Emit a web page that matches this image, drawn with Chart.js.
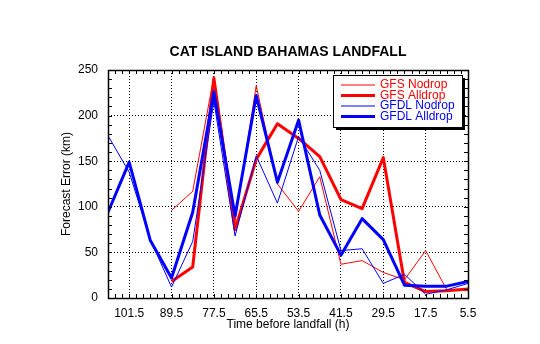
<!DOCTYPE html>
<html>
<head>
<meta charset="utf-8">
<script src="https://cdn.jsdelivr.net/npm/chart.js@4.4.0/dist/chart.umd.min.js"></script>
<style>
  html, body { margin: 0; padding: 0; background: #fff; }
  #wrap { width: 540px; height: 344px; }
</style>
</head>
<body>
<div id="wrap"><canvas id="chart" width="540" height="344"></canvas></div>
<script>
// hours before landfall, one point every 6 h
var hours = [107.5, 101.5, 95.5, 89.5, 83.5, 77.5, 71.5, 65.5, 59.5, 53.5, 47.5, 41.5, 35.5, 29.5, 23.5, 17.5, 11.5, 5.5];

// forecast error (km)
var gfsNodrop   = [null, null, null, 96, 117, 243, 84, 233, 125, 95, 133, 37, 41, 28, 20, 52, 9, 8];
var gfsAlldrop  = [null, null, null, 18, 34, 241, 75, 152, 191, 175, 155, 108, 98, 154, 17, 7, 8, 10];
var gfdlNodrop  = [178, 138, 64, 12, 62, 216, 68, 156, 104, 177, 140, 52, 54, 16, 26, 4, 9, 16];
var gfdlAlldrop = [94, 149, 63, 22, 94, 226, 90, 222, 127, 195, 91, 47, 87, 64, 14, 13, 13, 18];

var xTickLabels = [101.5, 89.5, 77.5, 65.5, 53.5, 41.5, 29.5, 17.5, 5.5];
var yTickLabels = [0, 50, 100, 150, 200, 250];

var FONT = "'Liberation Sans', Arial, Helvetica, sans-serif";

function toPoints(vals) {
    var pts = [];
    for (var i = 0; i < hours.length; i++) {
        pts.push({ x: hours[i], y: vals[i] });
    }
    return pts;
}

function makeSet(label, vals, color, width, order) {
    return {
        label: label,
        data: toPoints(vals),
        borderColor: color,
        backgroundColor: color,
        borderWidth: width,
        pointRadius: 0,
        tension: 0,
        borderJoinStyle: 'round',
        order: order
    };
}

// frame, inward ticks and the boxed legend
var framePlugin = {
    id: 'frame',
    afterDatasetsDraw: function (chart) {
        var ctx = chart.ctx;
        var a = chart.chartArea;
        var xs = chart.scales.x, ys = chart.scales.y;
        var len = 4;
        ctx.save();
        ctx.strokeStyle = '#000';
        ctx.lineWidth = 1;
        ctx.beginPath();
        for (var h = 5.5; h <= 107.5; h += 2) {
            var px = Math.round(xs.getPixelForValue(h)) + 0.5;
            ctx.moveTo(px, a.bottom); ctx.lineTo(px, a.bottom - len);
            ctx.moveTo(px, a.top); ctx.lineTo(px, a.top + len);
        }
        for (var v = 0; v <= 250; v += 10) {
            var py = Math.round(ys.getPixelForValue(v)) + 0.5;
            ctx.moveTo(a.left, py); ctx.lineTo(a.left + len, py);
            ctx.moveTo(a.right, py); ctx.lineTo(a.right - len, py);
        }
        ctx.stroke();
        ctx.lineWidth = 1.5;
        ctx.strokeRect(Math.round(a.left) + 0.5, Math.round(a.top) + 0.5,
            Math.round(a.right - a.left), Math.round(a.bottom - a.top));

        // legend box with drop shadow
        var bx = 333, by = 75, bw = 129, bh = 52;
        ctx.fillStyle = '#000';
        ctx.fillRect(bx + 3, by + 3, bw, bh);
        ctx.fillStyle = '#fff';
        ctx.fillRect(bx, by, bw, bh);
        ctx.lineWidth = 1;
        ctx.strokeRect(bx + 0.5, by + 0.5, bw, bh);

        ctx.font = '12px ' + FONT;
        ctx.textBaseline = 'middle';
        ctx.textAlign = 'left';
        chart.data.datasets.forEach(function (ds, i) {
            var ly = by + 10 + i * 10.5;
            ctx.strokeStyle = ds.borderColor;
            ctx.lineWidth = ds.borderWidth;
            ctx.beginPath();
            ctx.moveTo(bx + 8, ly);
            ctx.lineTo(bx + 42, ly);
            ctx.stroke();
            ctx.fillStyle = ds.borderColor;
            ctx.fillText(ds.label, bx + 47, ly);
        });
        ctx.restore();
    }
};

var chart = new Chart(document.getElementById('chart'), {
    type: 'line',
    data: {
        datasets: [
            makeSet('GFS Nodrop', gfsNodrop, 'rgb(255,0,0)', 1, 4),
            makeSet('GFS Alldrop', gfsAlldrop, 'rgb(255,0,0)', 3, 3),
            makeSet('GFDL Nodrop', gfdlNodrop, 'rgb(0,0,255)', 1, 2),
            makeSet('GFDL Alldrop', gfdlAlldrop, 'rgb(0,0,255)', 3, 1)
        ]
    },
    options: {
        responsive: false,
        animation: false,
        layout: { padding: { left: 59, right: 72, top: 0, bottom: 12 } },
        plugins: {
            legend: { display: false },
            tooltip: { enabled: false },
            title: {
                display: true,
                fullSize: false,
                text: 'CAT ISLAND BAHAMAS LANDFALL',
                color: '#000',
                font: { family: FONT, size: 14, weight: 'bold' },
                padding: { top: 44, bottom: 9.2 }
            }
        },
        scales: {
            x: {
                type: 'linear',
                reverse: true,
                min: 5.5,
                max: 107.5,
                afterFit: function (s) { s.height = 34; },
                afterBuildTicks: function (s) {
                    s.ticks = xTickLabels.map(function (v) { return { value: v }; });
                },
                ticks: {
                    color: '#000',
                    padding: 8,
                    maxRotation: 0,
                    autoSkip: false,
                    font: { family: FONT, size: 12 },
                    callback: function (v) { return v.toFixed(1); }
                },
                grid: {
                    drawTicks: false,
                    lineWidth: 1,
                    color: function (c) { return c.tick && c.tick.value === 5.5 ? 'rgba(0,0,0,0)' : '#000'; }
                },
                border: { display: false, dash: [1, 2] },
                title: {
                    display: true,
                    text: 'Time before landfall (h)',
                    color: '#000',
                    padding: 0,
                    font: { family: FONT, size: 12 }
                }
            },
            y: {
                min: 0,
                max: 250,
                afterFit: function (s) { s.width = 49; },
                afterBuildTicks: function (s) {
                    s.ticks = yTickLabels.map(function (v) { return { value: v }; });
                },
                ticks: {
                    color: '#000',
                    padding: 10,
                    font: { family: FONT, size: 12 }
                },
                grid: {
                    drawTicks: false,
                    lineWidth: 1,
                    color: function (c) {
                        var v = c.tick ? c.tick.value : 0;
                        return (v === 0 || v === 250) ? 'rgba(0,0,0,0)' : '#000';
                    }
                },
                border: { display: false, dash: [1, 2] },
                title: {
                    display: true,
                    text: 'Forecast Error (km)',
                    color: '#000',
                    padding: 0,
                    font: { family: FONT, size: 12 }
                }
            }
        }
    },
    plugins: [framePlugin]
});
</script>
</body>
</html>
